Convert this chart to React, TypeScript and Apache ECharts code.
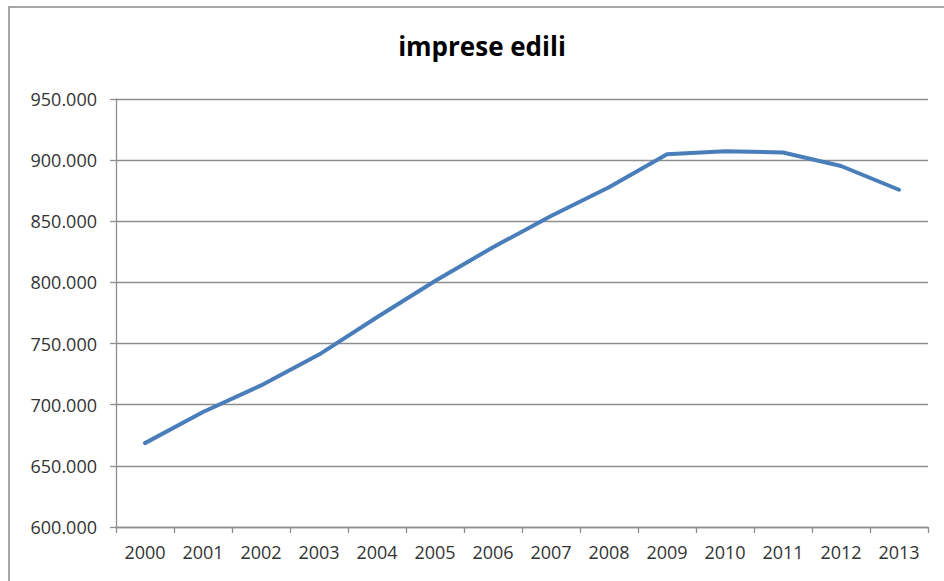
import React, { useEffect, useRef } from "react";
import * as echarts from "echarts";

// Numero di imprese edili per anno
const years = ["2000", "2001", "2002", "2003", "2004", "2005", "2006", "2007", "2008", "2009", "2010", "2011", "2012", "2013"];
const imprese = [668600, 694000, 715800, 741000, 771500, 801200, 828800, 854300, 877800, 904800, 907300, 906300, 895200, 875800];

const yMin = 600000;
const yMax = 950000;
const yStep = 50000;

// 950000 -> "950.000"
const formatThousands = (v: number) =>
  String(Math.round(v)).replace(/\B(?=(\d{3})+(?!\d))/g, ".");

export default function App() {
  const ref = useRef<HTMLDivElement>(null);

  useEffect(() => {
    document.body.style.margin = "0";
    if (!ref.current) return;
    const chart = echarts.init(ref.current, undefined, { renderer: "svg" });
    const font = "'Open Sans', 'Noto Sans', sans-serif";
    chart.setOption({
      animation: false,
      backgroundColor: "#ffffff",
      title: {
        text: "imprese edili",
        left: 477,
        top: 28,
        textAlign: "center",
        textStyle: { fontFamily: font, fontWeight: "bold", fontSize: 26, color: "#000000" },
      },
      graphic: [
        {
          type: "rect",
          shape: { x: 9, y: 7, width: 950, height: 600 },
          style: { fill: "none", stroke: "#8a8a8a", lineWidth: 1.5 },
          silent: true,
        },
      ],
      grid: { left: 116, right: 16, top: 99, bottom: 54, containLabel: false },
      xAxis: {
        type: "category",
        data: years,
        boundaryGap: true,
        axisLine: { show: true, lineStyle: { color: "#8e8e8e", width: 1.3 } },
        axisTick: { show: true, alignWithLabel: false, length: 6, lineStyle: { color: "#8e8e8e", width: 1.3 } },
        axisLabel: { fontFamily: font, fontSize: 18, color: "#333333", margin: 16 },
        splitLine: { show: false },
      },
      yAxis: {
        type: "value",
        min: yMin,
        max: yMax,
        interval: yStep,
        axisLine: { show: true, lineStyle: { color: "#8e8e8e", width: 1.3 } },
        axisTick: { show: true, length: 6, lineStyle: { color: "#8e8e8e", width: 1.3 } },
        axisLabel: {
          fontFamily: font,
          fontSize: 18,
          color: "#333333",
          margin: 19,
          formatter: (v: number) => formatThousands(v),
        },
        splitLine: { show: true, lineStyle: { color: "#8e8e8e", width: 1.3 } },
      },
      series: [
        {
          type: "line",
          data: imprese,
          symbol: "none",
          smooth: false,
          lineStyle: { color: "#4a7ebb", width: 4, cap: "round", join: "round" },
        },
      ],
    });
    return () => chart.dispose();
  }, []);

  return <div ref={ref} style={{ width: 944, height: 581 }} />;
}
